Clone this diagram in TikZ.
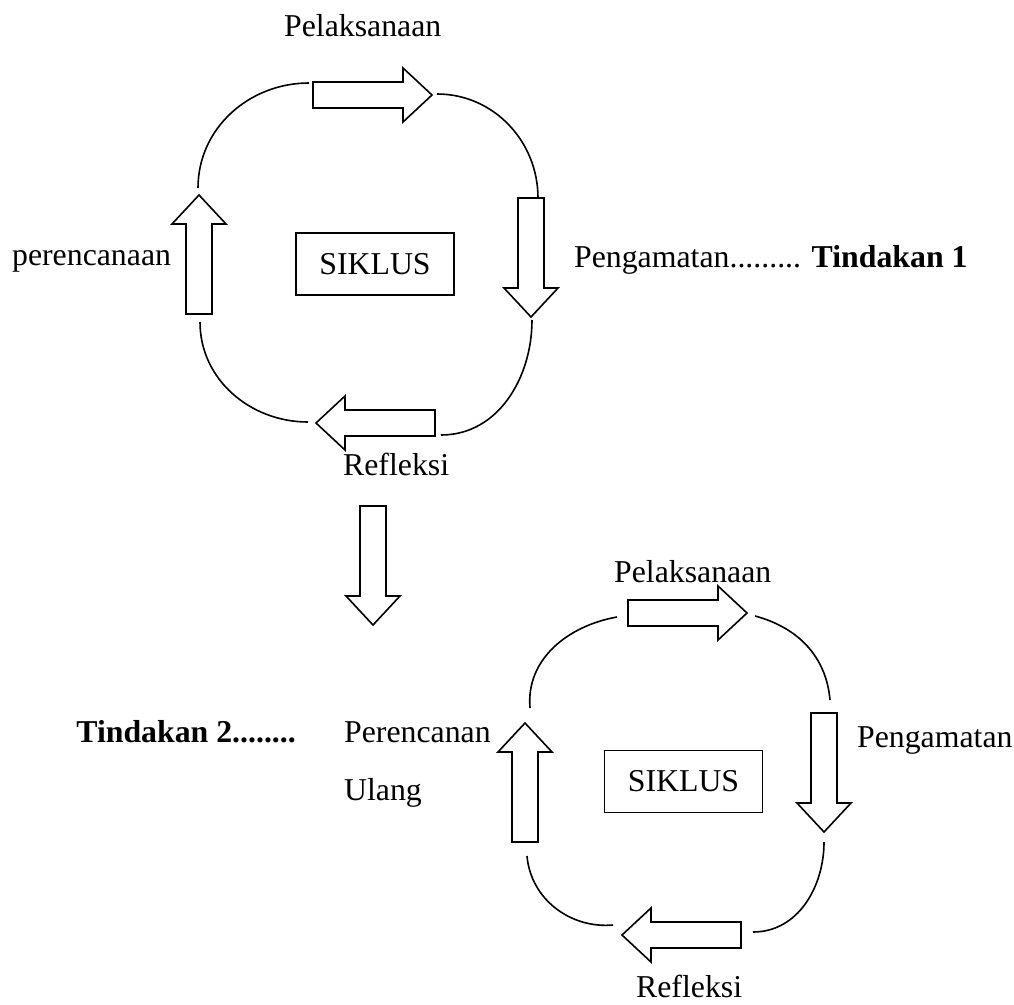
\documentclass[tikz,border=0pt]{standalone}
\usepackage{fontspec}
\setmainfont{Liberation Serif}
\tikzset{
	panah/.pic={\draw[fill=white] (0,0)--(-29,27)--(-29,13)--(-119,13)--(-119,-13)--(-29,-13)--(-29,-27)--cycle;},
	kotak/.style={draw, minimum width=158, minimum height=62},
	teks/.style={anchor=base west},
}
\begin{document}
\begin{tikzpicture}[x=1pt, y=1pt, line width=1.6pt, line join=miter, font=\fontsize{31.8}{38}\selectfont]
	\useasboundingbox (0,0) rectangle (1014,-1004);
	% siklus 1
	\pic (pa1) at (432,-95) {panah};
	\pic[rotate=-90] (pb1) at (531,-317) {panah};
	\pic[rotate=180] (pc1) at (316,-423) {panah};
	\pic[rotate=90] (pd1) at (199,-195) {panah};
	\node[kotak] (sik1) at (375,-264) {SIKLUS};
	\node[teks] (pel1) at (280,-36) {Pelaksanaan};
	\node[teks] (per1) at (8,-265) {perencanaan};
	\node[teks] (peng1) at (570,-267) {Pengamatan......... \textbf{Tindakan 1}};
	\node[teks] (ref1) at (339,-475) {Refleksi};
	\coordinate (a1) at (198,-188); \coordinate (a2) at (309,-83);
	\coordinate (b1) at (437,-94);  \coordinate (b2) at (538,-198);
	\coordinate (c1) at (532,-320); \coordinate (c2) at (441,-435);
	\coordinate (d1) at (200,-322); \coordinate (d2) at (308,-422);
	\draw (a1) to[out=90,in=180] (a2);
	\draw (b1) to[out=0,in=90] (b2);
	\draw (c1) to[out=-90,in=0] (c2);
	\draw (d1) to[out=-90,in=180] (d2);
	% ke siklus 2
	\pic[rotate=-90] (pm) at (373,-625) {panah};
	% siklus 2
	\pic (pa2) at (747,-613) {panah};
	\pic[rotate=-90] (pb2) at (824,-832) {panah};
	\pic[rotate=180] (pc2) at (622,-935) {panah};
	\pic[rotate=90] (pd2) at (525,-723) {panah};
	\node[kotak] (sik2) at (683.5,-781.5) {SIKLUS};
	\node[teks] (pel2) at (610,-582) {Pelaksanaan};
	\node[teks] (peng2) at (853,-747) {Pengamatan};
	\node[teks] (ref2) at (632,-997) {Refleksi};
	\node[anchor=base east] (tin2) at (300,-742) {\textbf{Tindakan 2........}};
	\node[teks] (per2) at (340,-742) {Perencanan};
	\node[teks] (ul2) at (340,-800) {Ulang};
	\coordinate (e1) at (530,-708); \coordinate (e2) at (617,-617);
	\coordinate (f1) at (755,-616); \coordinate (f2) at (830,-700);
	\coordinate (g1) at (824,-842); \coordinate (g2) at (753,-932);
	\coordinate (h1) at (527,-856); \coordinate (h2) at (613,-925);
	\draw (e1) to[out=95,in=190] (e2);
	\draw (f1) to[out=-15,in=95] (f2);
	\draw (g1) to[out=-90,in=0] (g2);
	\draw (h1) to[out=-85,in=185] (h2);
\end{tikzpicture}
\end{document}
